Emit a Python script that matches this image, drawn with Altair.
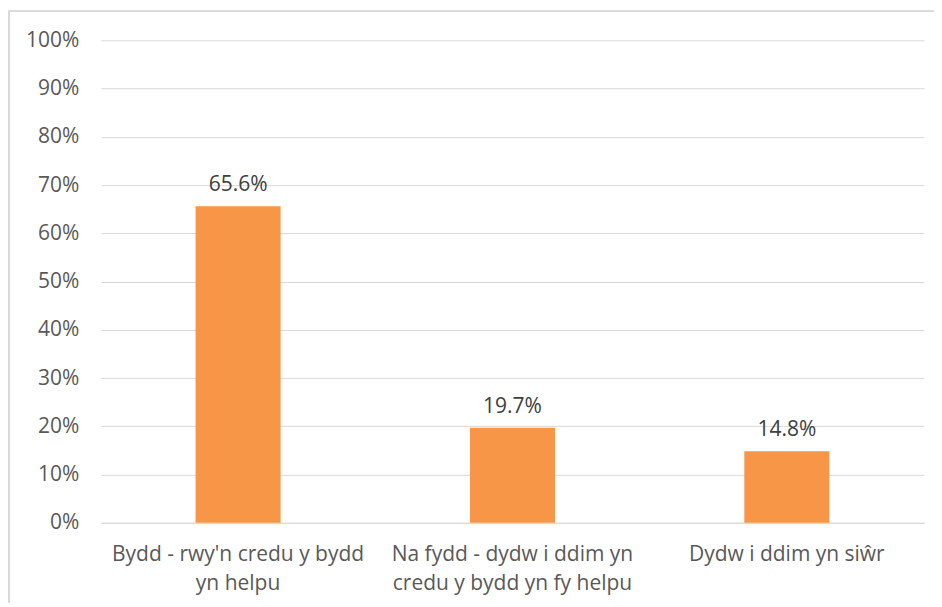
import altair as alt
import pandas as pd

categories = [
    "Bydd - rwy'n credu y bydd yn helpu",
    "Na fydd - dydw i ddim yn credu y bydd yn fy helpu",
    "Dydw i ddim yn siŵr",
]
label_lines = [
    ["Bydd - rwy'n credu y bydd", "yn helpu"],
    ["Na fydd - dydw i ddim yn", "credu y bydd yn fy helpu"],
    ["Dydw i ddim yn siŵr"],
]
values = [0.656, 0.197, 0.148]
value_labels = ["65.6%", "19.7%", "14.8%"]

df = pd.DataFrame({"cat": categories, "val": values, "txt": value_labels})

# build label expression for multi-line labels
expr = "''"
for c, lines in reversed(list(zip(categories, label_lines))):
    arr = "[" + ",".join("'" + l.replace("'", "\\'") + "'" for l in lines) + "]"
    expr = f"datum.label == '{c.replace(chr(39), chr(92) + chr(39))}' ? {arr} : ({expr})"

FONT = "Open Sans"
TXT = "#595959"
FS = 21
W, H = 824, 483

x = alt.X(
    "cat:N",
    sort=categories,
    scale=alt.Scale(paddingInner=0.69, paddingOuter=0.345),
    axis=alt.Axis(
        title=None,
        labelAngle=0,
        labelExpr=expr,
        labelFont=FONT,
        labelFontSize=FS,
        labelColor=TXT,
        labelPadding=21,
        labelLineHeight=29,
        labelLimit=400,
        ticks=False,
        domainColor="#d9d9d9",
        domainWidth=1,
    ),
)
y = alt.Y(
    "val:Q",
    scale=alt.Scale(domain=[0, 1], nice=False),
    axis=alt.Axis(
        title=None,
        format=".0%",
        values=[i / 10 for i in range(11)],
        labelFont=FONT,
        labelFontSize=FS,
        labelColor=TXT,
        labelPadding=22,
        ticks=False,
        domain=False,
        gridColor="#d9d9d9",
        gridWidth=1,
    ),
)

frame = alt.Chart(df).mark_rect(fillOpacity=0, stroke="#d9d9d9", strokeWidth=1.5).encode(
    x=alt.value(-92), x2=alt.value(W + 200), y=alt.value(-29), y2=alt.value(H + 200)
)

bars = alt.Chart(df).mark_bar(color="#F79646").encode(x=x, y=y)

text = alt.Chart(df).mark_text(
    font=FONT, fontSize=FS, color="#404040", baseline="bottom", dy=-11
).encode(x=alt.X("cat:N", sort=categories), y="val:Q", text="txt:N")

chart = alt.layer(frame, bars, text).properties(
    width=W,
    height=H,
    autosize=alt.AutoSizeParams(type="none"),
    padding={"left": 93, "top": 32, "right": 10, "bottom": 80},
).configure_view(stroke=None)

chart.save("out.html", embed_options={"renderer": "svg", "actions": False})
